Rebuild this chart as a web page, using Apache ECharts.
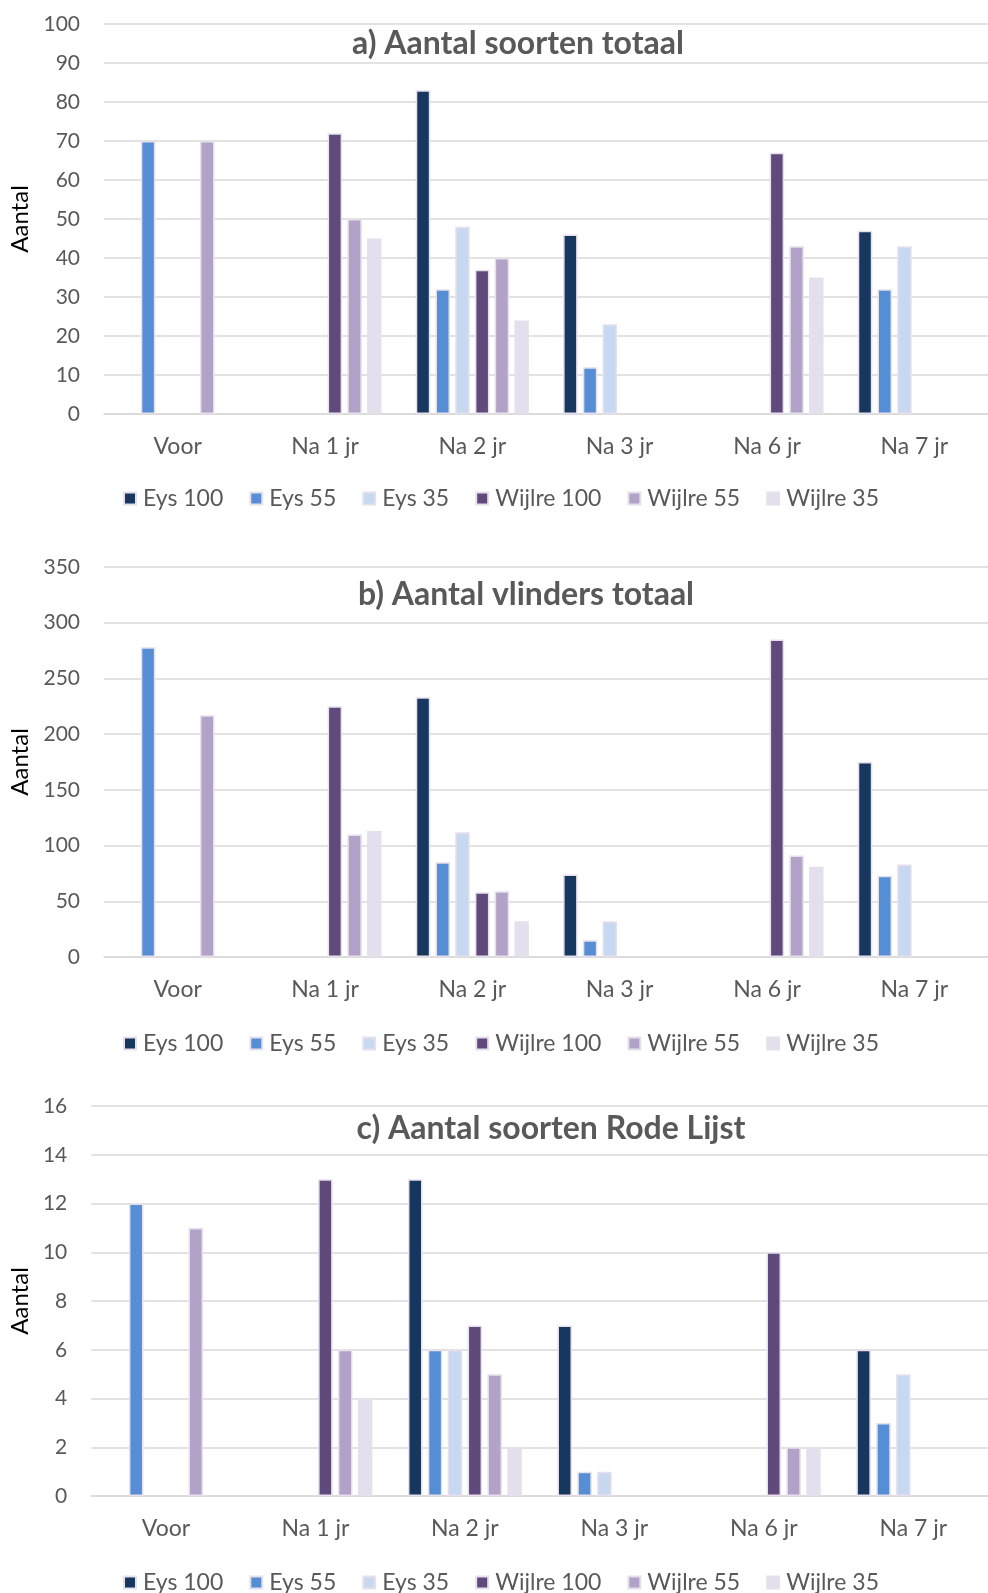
<!DOCTYPE html>
<html>
<head>
<meta charset="utf-8">
<script src="https://cdn.jsdelivr.net/npm/echarts@6/dist/echarts.min.js"></script>
<style>
html,body{margin:0;padding:0;background:#fff;overflow:hidden;}
#chart{width:988px;height:1593px;}
</style>
</head>
<body>
<div id="chart"></div>
<script>
// ---- data ----
const categories = ['Voor', 'Na 1 jr', 'Na 2 jr', 'Na 3 jr', 'Na 6 jr', 'Na 7 jr'];
const seriesNames = ['Eys 100', 'Eys 55', 'Eys 35', 'Wijlre 100', 'Wijlre 55', 'Wijlre 35'];
const panelTitles = ['a) Aantal soorten totaal', 'b) Aantal vlinders totaal', 'c) Aantal soorten Rode Lijst'];
const yAxisName = 'Aantal';

// a) Aantal soorten totaal
const eys100A    = [null, null, 83, 46, null, 47];
const eys55A     = [70, null, 32, 12, null, 32];
const eys35A     = [null, null, 48, 23, null, 43];
const wijlre100A = [null, 72, 37, null, 67, null];
const wijlre55A  = [70, 50, 40, null, 43, null];
const wijlre35A  = [null, 45, 24, null, 35, null];

// b) Aantal vlinders totaal
const eys100B    = [null, null, 233, 74, null, 175];
const eys55B     = [278, null, 85, 15, null, 73];
const eys35B     = [null, null, 112, 32, null, 83];
const wijlre100B = [null, 225, 58, null, 285, null];
const wijlre55B  = [217, 110, 59, null, 91, null];
const wijlre35B  = [null, 113, 32, null, 81, null];

// c) Aantal soorten Rode Lijst
const eys100C    = [null, null, 13, 7, null, 6];
const eys55C     = [12, null, 6, 1, null, 3];
const eys35C     = [null, null, 6, 1, null, 5];
const wijlre100C = [null, 13, 7, null, 10, null];
const wijlre55C  = [11, 6, 5, null, 2, null];
const wijlre35C  = [null, 4, 2, null, 2, null];

// y-axis scales [min, max, interval]
const yScales = [[0, 100, 10], [0, 350, 50], [0, 16, 2]];

const panelData = [
  [eys100A, eys55A, eys35A, wijlre100A, wijlre55A, wijlre35A],
  [eys100B, eys55B, eys35B, wijlre100B, wijlre55B, wijlre35B],
  [eys100C, eys55C, eys35C, wijlre100C, wijlre55C, wijlre35C]
];

// ---- styles / layout ----
const colors = ['#17375E', '#558ED5', '#C6D9F1', '#604A7B', '#B3A2C7', '#E4DFEC'];
const FONT = 'Lato';
const grey = '#595959';
const gridColor = '#D9D9D9';

const layout = [
  {grid: {left: 104, top: 24, width: 890, height: 390}, titleX: 518, titleY: 44, legendTop: 499, nameGap: 70, barGap: '36%'},
  {grid: {left: 104, top: 567, width: 890, height: 390}, titleX: 526, titleY: 595, legendTop: 1044, nameGap: 70, barGap: '36%'},
  {grid: {left: 91, top: 1106, width: 903, height: 390}, titleX: 551, titleY: 1129, legendTop: 1583, nameGap: 57, barGap: '37%'}
];

const option = {
  animation: false,
  backgroundColor: '#fff',
  textStyle: {fontFamily: FONT},
  title: [], legend: [], grid: [], xAxis: [], yAxis: [], series: []
};

layout.forEach((L, p) => {
  option.grid.push(Object.assign({containLabel: false}, L.grid));
  option.title.push({
    text: panelTitles[p],
    left: L.titleX, top: L.titleY - 16, textAlign: 'center', padding: 0,
    textStyle: {fontFamily: FONT, fontWeight: 'bold', fontSize: 32, color: grey}
  });
  option.legend.push({
    data: seriesNames,
    left: 123, top: L.legendTop - 12, padding: 0,
    icon: 'rect', itemWidth: 12, itemHeight: 12, itemGap: 26,
    textStyle: {fontFamily: FONT, fontSize: 23, color: grey, padding: [0, 0, 0, 2]}
  });
  option.xAxis.push({
    type: 'category', gridIndex: p, data: categories,
    axisLine: {show: true, lineStyle: {color: gridColor, width: 1.5}},
    axisTick: {show: false},
    axisLabel: {fontFamily: FONT, fontSize: 23, color: grey, margin: 21},
    splitLine: {show: false}
  });
  option.yAxis.push({
    type: 'value', gridIndex: p,
    min: yScales[p][0], max: yScales[p][1], interval: yScales[p][2],
    name: yAxisName, nameLocation: 'middle', nameGap: L.nameGap,
    nameTextStyle: {fontFamily: FONT, fontSize: 24, color: '#000'},
    axisLine: {show: false}, axisTick: {show: false},
    axisLabel: {fontFamily: FONT, fontSize: 21, color: grey, margin: 24},
    splitLine: {show: true, lineStyle: {color: gridColor, width: 1.5}}
  });
  seriesNames.forEach((name, s) => {
    option.series.push({
      type: 'bar', name: name, xAxisIndex: p, yAxisIndex: p,
      data: panelData[p][s],
      barWidth: 14.5, barGap: L.barGap,
      itemStyle: {color: colors[s], borderColor: '#E6E0EC', borderWidth: 1.5}
    });
  });
});

const chart = echarts.init(document.getElementById('chart'), null, {renderer: 'canvas'});
chart.setOption(option);
</script>
</body>
</html>
